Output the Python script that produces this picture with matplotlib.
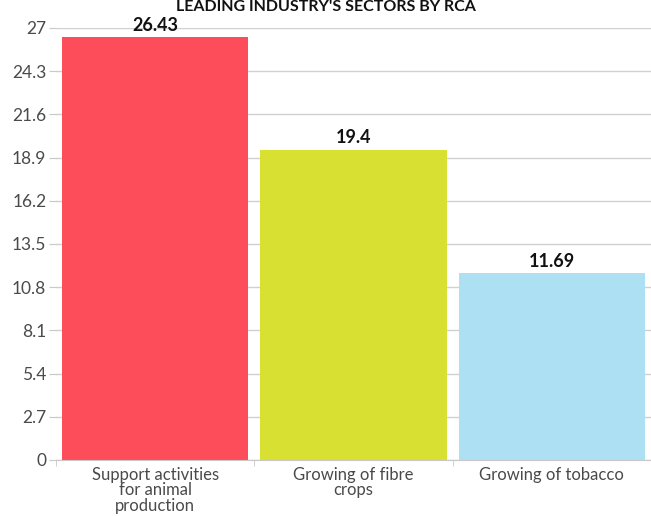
import numpy as np
import matplotlib.pyplot as plt

plt.rcParams['font.family'] = ['Lato', 'DejaVu Sans']

categories = ['Support activities\nfor animal\nproduction', 'Growing of fibre\ncrops', 'Growing of tobacco']
values = [26.43, 19.4, 11.69]
colors = ['#fd4d5b', '#d8e032', '#ade0f2']
yticks = [0, 2.7, 5.4, 8.1, 10.8, 13.5, 16.2, 18.9, 21.6, 24.3, 27]
title = "LEADING INDUSTRY'S SECTORS BY RCA"

fig = plt.figure(figsize=(6.51, 5.16), dpi=100)
ax = fig.add_axes([56 / 651, 56 / 516, 595 / 651, 432 / 516])

x = np.arange(len(categories))
ax.bar(x, values, width=0.94, color=colors, zorder=2)
for xi, v in zip(x, values):
    ax.text(xi, v + 0.2, f'{v:g}', ha='center', va='bottom', fontsize=13,
            fontweight='bold', color='#111111', zorder=3)

ax.set_xlim(-0.5, 2.5)
ax.set_ylim(0, 27)
ax.set_yticks(yticks)
ax.set_yticklabels([f'{t:g}' for t in yticks])
ax.set_xticks(x)
ax.set_xticklabels(categories, linespacing=0.95)
ax.set_xticks([-0.5, 0.5, 1.5], minor=True)
ax.tick_params(axis='x', which='major', length=0, pad=5, labelsize=12, labelcolor='#4a4a4a')
ax.tick_params(axis='x', which='minor', length=4, color='#c8c8c8')
ax.tick_params(axis='y', length=5, color='#c8c8c8', pad=2, labelsize=12.5, labelcolor='#4a4a4a')
ax.grid(axis='y', color='#d0d0d0', linewidth=1, zorder=0)
for s in ['top', 'right', 'left']:
    ax.spines[s].set_visible(False)
ax.spines['bottom'].set_color('#c8c8c8')

fig.text(326 / 651, 1.0, title, ha='center', va='top', fontsize=11.5,
         fontweight='bold', color='#111111')

fig.savefig('out.png', dpi=100)
